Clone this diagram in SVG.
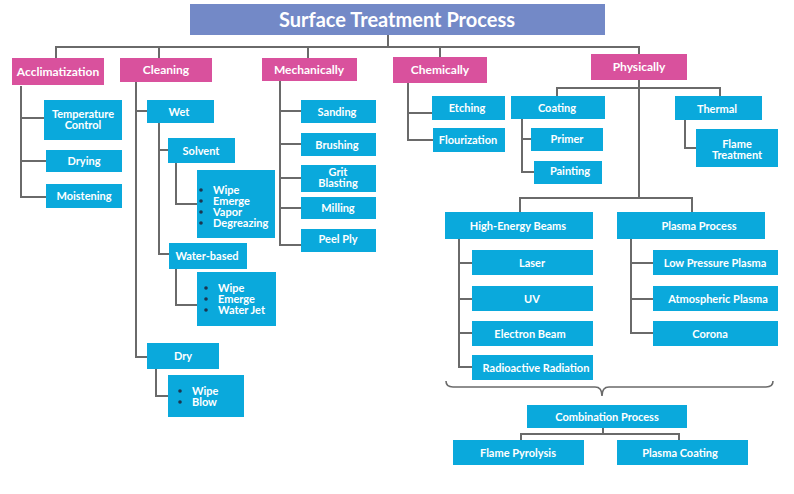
<svg xmlns="http://www.w3.org/2000/svg" width="794" height="494" viewBox="0 0 794 494">
<style>
.title{fill:#7389c7}
.pk{fill:#d9519d}
.bl{fill:#0aa9dc}
.t{font-family:Lato,"Open Sans","Liberation Sans",sans-serif;font-weight:bold;fill:#fff;font-size:11px;text-anchor:middle}
.tp{font-size:12px}
.tl{text-anchor:start}
.tt{font-size:20px}
.ln{stroke:#6a6a6a;stroke-width:2;fill:none}
.br{stroke:#6a6a6a;stroke-width:1.6;fill:none}
.dot{fill:#1b3550}
</style>
<rect width="794" height="494" fill="#fff"/>
<g id="connectors">
<path class="ln" d="M388,35 V47 M56,58 V47 H639 V54 M159,47 V58 M308,47 V58 M440,47 V57"/>
<path class="ln" d="M21,86 V197 H46 M21,118 H44 M21,161 H46"/>
<path class="ln" d="M136,82 V357 H147 M136,111 H147"/>
<path class="ln" d="M159,123 V254 H169 M159,150 H168"/>
<path class="ln" d="M176,163 V204 H197 M176,269 V305 H197 M156,369 V396 H168"/>
<path class="ln" d="M280,81 V245 H301 M280,111 H301 M280,144 H301 M280,178 H301 M280,208 H301"/>
<path class="ln" d="M408,83 V140 H433 M408,113 H432"/>
<path class="ln" d="M639,80 V198 M557,96 V88 H720 V96 M520,212 V198 H692 V212"/>
<path class="ln" d="M522,119 V172 H534 M522,139 H531 M685,120 V148 H696"/>
<path class="ln" d="M459,239 V367 H472 M459,263 H472 M459,299 H472 M459,333 H472"/>
<path class="ln" d="M631,239 V333 H653 M631,263 H653 M631,299 H653"/>
<path class="br" d="M446,381 Q446,387 453,387 H595 Q602,387 602,396 Q602,387 609,387 H766 Q773,387 773,381"/>
<path class="ln" d="M603,428 V434 M521,440 V434 H679 V440"/>
</g>
<g id="title"><rect class="title" x="190" y="4" width="415" height="31"/><text class="t tt" x="397" y="27">Surface Treatment Process</text></g>
<g id="acclimatization"><rect class="pk" x="12" y="58" width="92" height="27"/><text class="t tp" x="58" y="76">Acclimatization</text></g>
<g id="cleaning"><rect class="pk" x="120" y="58" width="92" height="24"/><text class="t tp" x="166" y="74">Cleaning</text></g>
<g id="mechanically"><rect class="pk" x="262" y="58" width="95" height="23"/><text class="t tp" x="309" y="74">Mechanically</text></g>
<g id="chemically"><rect class="pk" x="393" y="57" width="94" height="26"/><text class="t tp" x="440" y="74">Chemically</text></g>
<g id="physically"><rect class="pk" x="591" y="54" width="96" height="26"/><text class="t tp" x="639" y="71">Physically</text></g>
<g id="temperature-control"><rect class="bl" x="44" y="100" width="78" height="40"/><text class="t" x="83" y="118">Temperature</text><text class="t" x="83" y="129">Control</text></g>
<g id="drying"><rect class="bl" x="46" y="150" width="76" height="22"/><text class="t" x="84" y="165">Drying</text></g>
<g id="moistening"><rect class="bl" x="46" y="184" width="76" height="24"/><text class="t" x="84" y="200">Moistening</text></g>
<g id="wet"><rect class="bl" x="147" y="100" width="67" height="23"/><text class="t" x="179" y="116">Wet</text></g>
<g id="solvent"><rect class="bl" x="168" y="138" width="67" height="25"/><text class="t" x="201" y="155">Solvent</text></g>
<g id="solvent-list"><rect class="bl" x="197" y="170" width="78" height="68"/>
<circle class="dot" cx="201" cy="190" r="1.8"/><circle class="dot" cx="201" cy="201" r="1.8"/><circle class="dot" cx="201" cy="212" r="1.8"/><circle class="dot" cx="201" cy="223" r="1.8"/>
<text class="t tl" x="213" y="194">Wipe</text><text class="t tl" x="213" y="205">Emerge</text><text class="t tl" x="213" y="216">Vapor</text><text class="t tl" x="213" y="227">Degreazing</text></g>
<g id="water-based"><rect class="bl" x="169" y="243" width="78" height="26"/><text class="t" x="207" y="260">Water-based</text></g>
<g id="water-list"><rect class="bl" x="197" y="272" width="79" height="54"/>
<circle class="dot" cx="206" cy="288" r="1.8"/><circle class="dot" cx="206" cy="299" r="1.8"/><circle class="dot" cx="206" cy="310" r="1.8"/>
<text class="t tl" x="218" y="292">Wipe</text><text class="t tl" x="218" y="303">Emerge</text><text class="t tl" x="218" y="314">Water Jet</text></g>
<g id="dry"><rect class="bl" x="147" y="343" width="72" height="26"/><text class="t" x="183" y="360">Dry</text></g>
<g id="dry-list"><rect class="bl" x="168" y="375" width="76" height="42"/>
<circle class="dot" cx="180" cy="391" r="1.8"/><circle class="dot" cx="180" cy="402" r="1.8"/>
<text class="t tl" x="192" y="395">Wipe</text><text class="t tl" x="192" y="406">Blow</text></g>
<g id="sanding"><rect class="bl" x="301" y="100" width="75" height="23"/><text class="t" x="337" y="116">Sanding</text></g>
<g id="brushing"><rect class="bl" x="301" y="133" width="75" height="23"/><text class="t" x="337" y="149">Brushing</text></g>
<g id="grit-blasting"><rect class="bl" x="301" y="165" width="75" height="27"/><text class="t" x="338" y="176">Grit</text><text class="t" x="338" y="187">Blasting</text></g>
<g id="milling"><rect class="bl" x="301" y="197" width="75" height="22"/><text class="t" x="338" y="212">Milling</text></g>
<g id="peel-ply"><rect class="bl" x="301" y="229" width="75" height="23"/><text class="t" x="338" y="243">Peel Ply</text></g>
<g id="etching"><rect class="bl" x="432" y="96" width="73" height="24"/><text class="t" x="467" y="112">Etching</text></g>
<g id="flourization"><rect class="bl" x="433" y="128" width="72" height="24"/><text class="t" x="468" y="144">Flourization</text></g>
<g id="coating"><rect class="bl" x="511" y="96" width="94" height="23"/><text class="t" x="557" y="112">Coating</text></g>
<g id="primer"><rect class="bl" x="531" y="128" width="72" height="23"/><text class="t" x="567" y="143">Primer</text></g>
<g id="painting"><rect class="bl" x="534" y="161" width="68" height="23"/><text class="t" x="570" y="175">Painting</text></g>
<g id="thermal"><rect class="bl" x="675" y="96" width="87" height="24"/><text class="t" x="717" y="113">Thermal</text></g>
<g id="flame-treatment"><rect class="bl" x="696" y="129" width="82" height="38"/><text class="t" x="737" y="148">Flame</text><text class="t" x="737" y="159">Treatment</text></g>
<g id="high-energy-beams"><rect class="bl" x="445" y="212" width="148" height="27"/><text class="t" x="518" y="230">High-Energy Beams</text></g>
<g id="laser"><rect class="bl" x="472" y="250" width="121" height="25"/><text class="t" x="532" y="267">Laser</text></g>
<g id="uv"><rect class="bl" x="472" y="286" width="121" height="25"/><text class="t" x="532" y="303">UV</text></g>
<g id="electron-beam"><rect class="bl" x="472" y="321" width="121" height="25"/><text class="t" x="530" y="338">Electron Beam</text></g>
<g id="radioactive-radiation"><rect class="bl" x="472" y="355" width="121" height="25"/><text class="t" x="536" y="372">Radioactive Radiation</text></g>
<g id="plasma-process"><rect class="bl" x="617" y="212" width="148" height="27"/><text class="t" x="699" y="230">Plasma Process</text></g>
<g id="low-pressure-plasma"><rect class="bl" x="653" y="250" width="125" height="25"/><text class="t" x="715" y="267">Low Pressure Plasma</text></g>
<g id="atmospheric-plasma"><rect class="bl" x="653" y="286" width="125" height="25"/><text class="t" x="718" y="303">Atmospheric Plasma</text></g>
<g id="corona"><rect class="bl" x="653" y="321" width="125" height="25"/><text class="t" x="710" y="338">Corona</text></g>
<g id="combination-process"><rect class="bl" x="527" y="405" width="160" height="23"/><text class="t" x="607" y="421">Combination Process</text></g>
<g id="flame-pyrolysis"><rect class="bl" x="453" y="440" width="131" height="25"/><text class="t" x="518" y="457">Flame Pyrolysis</text></g>
<g id="plasma-coating"><rect class="bl" x="617" y="440" width="131" height="25"/><text class="t" x="680" y="457">Plasma Coating</text></g>
</svg>
